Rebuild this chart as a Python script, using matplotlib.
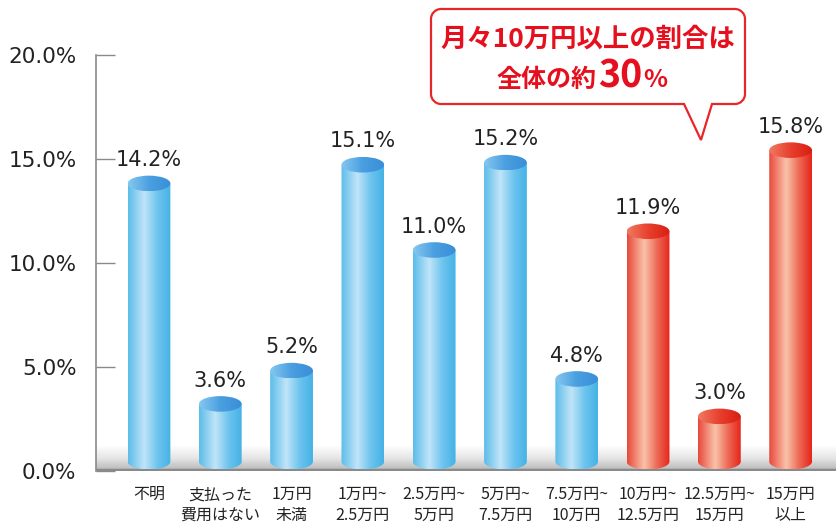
import numpy as np
import matplotlib
matplotlib.use('Agg')
import matplotlib.pyplot as plt
from matplotlib.colors import LinearSegmentedColormap
from matplotlib.path import Path
from matplotlib.patches import PathPatch, Ellipse
from matplotlib.ticker import FuncFormatter

plt.rcParams['font.family'] = ['Noto Sans CJK JP', 'DejaVu Sans']

# datos
categorias = ['不明', '支払った\n費用はない', '1万円\n未満', '1万円~\n2.5万円', '2.5万円~\n5万円',
              '5万円~\n7.5万円', '7.5万円~\n10万円', '10万円~\n12.5万円', '12.5万円~\n15万円', '15万円\n以上']
valores = [14.2, 3.6, 5.2, 15.1, 11.0, 15.2, 4.8, 11.9, 3.0, 15.8]
rojo = [False, False, False, False, False, False, False, True, True, True]
yticks = [0, 5, 10, 15, 20]

# gradientes del cilindro
cuerpo_azul = LinearSegmentedColormap.from_list('ca', [(0, '#5cbdea'), (0.38, '#c0e4f8'), (0.7, '#6cc3ee'), (1, '#45b2e6')])
tapa_azul = LinearSegmentedColormap.from_list('ta', ['#86c8f0', '#4a9fe0', '#3a8ed8'])
cuerpo_rojo = LinearSegmentedColormap.from_list('cr', [(0, '#e8483a'), (0.4, '#f9c2aa'), (0.7, '#ee6a55'), (1, '#e6241c')])
tapa_rojo = LinearSegmentedColormap.from_list('tr', ['#f07a62', '#e8402e', '#d81e12'])
piso = LinearSegmentedColormap.from_list('piso', ['#ffffff', '#e6e6e6', '#b4b4b4'])

fig = plt.figure(figsize=(8.37, 5.27), dpi=100)
ax = fig.add_axes([96 / 837, 56 / 527, 741 / 837, 416 / 527])
ax.set_xlim(-0.743, 9.65)
ax.set_ylim(0, 20)

ancho = 0.6
eh = 0.75  # alto de la elipse (en %)
grad = np.linspace(0, 1, 256).reshape(1, -1)

# piso gris
ax.imshow(grad.T, extent=[-0.743, 9.65, 0, 1.25], cmap=piso, aspect='auto', origin='upper', zorder=1)
ax.axhline(0.05, color='#8a8a8a', lw=2.5, zorder=2)

t = np.linspace(np.pi, 2 * np.pi, 40)
for i, (v, r) in enumerate(zip(valores, rojo)):
    x0, x1 = i - ancho / 2, i + ancho / 2
    ytop = v - eh / 2
    ybot = 0.45
    # cuerpo: lados + fondo redondeado
    arco = np.column_stack([i + ancho / 2 * np.cos(t), ybot + eh / 2 * np.sin(t)])
    verts = np.vstack([[x0, ytop], arco, [x1, ytop], [x0, ytop]])
    codes = [Path.MOVETO] + [Path.LINETO] * (len(verts) - 2) + [Path.CLOSEPOLY]
    body = PathPatch(Path(verts, codes), facecolor='none', edgecolor='none')
    ax.add_patch(body)
    im = ax.imshow(grad, extent=[x0, x1, ybot - eh / 2, ytop], aspect='auto',
                   cmap=cuerpo_rojo if r else cuerpo_azul, zorder=3)
    im.set_clip_path(body)
    # tapa
    tapa = Ellipse((i, ytop), ancho, eh, facecolor='none', edgecolor='none')
    ax.add_patch(tapa)
    im2 = ax.imshow(grad, extent=[x0, x1, ytop - eh / 2, ytop + eh / 2], aspect='auto',
                    cmap=tapa_rojo if r else tapa_azul, zorder=4)
    im2.set_clip_path(tapa)
    ax.annotate(f'{v:.1f}%', xy=(i, v), xytext=(0, 4), textcoords='offset points',
                ha='center', va='bottom', fontsize=15, family='DejaVu Sans',
                color='#222222', zorder=5)

ax.set_xticks(range(len(categorias)))
ax.set_xticklabels(categorias, fontsize=11.5, color='#222222', linespacing=1.25)
ax.tick_params(axis='x', length=0, pad=11)
ax.set_yticks(yticks)
ax.yaxis.set_major_formatter(FuncFormatter(lambda y, pos: f'{y:.1f}%'))
ax.tick_params(axis='y', direction='in', length=14, width=1, color='#8a8a8a',
               labelsize=15.5, labelcolor='#222222', pad=14)
for lbl in ax.get_yticklabels():
    lbl.set_family('DejaVu Sans')
for s in ['top', 'right', 'bottom']:
    ax.spines[s].set_visible(False)
ax.spines['left'].set_color('#8a8a8a')
ax.spines['left'].set_linewidth(1.2)

# globo de texto
ov = fig.add_axes([0, 0, 1, 1], zorder=10)
ov.set_xlim(0, 837)
ov.set_ylim(527, 0)
ov.axis('off')
L, R, T, B, rad = 431, 745, 9, 104, 10
k = 0.55 * rad
v = [(L + rad, T), (R - rad, T), (R - rad + k, T), (R, T + rad - k), (R, T + rad),
     (R, B - rad), (R, B - rad + k), (R - rad + k, B), (R - rad, B),
     (712, B), (701, 140), (684, B),
     (L + rad, B), (L + rad - k, B), (L, B - rad + k), (L, B - rad),
     (L, T + rad), (L, T + rad - k), (L + rad - k, T), (L + rad, T), (L + rad, T)]
c = [Path.MOVETO, Path.LINETO, Path.CURVE4, Path.CURVE4, Path.CURVE4,
     Path.LINETO, Path.CURVE4, Path.CURVE4, Path.CURVE4,
     Path.LINETO, Path.LINETO, Path.LINETO,
     Path.LINETO, Path.CURVE4, Path.CURVE4, Path.CURVE4,
     Path.LINETO, Path.CURVE4, Path.CURVE4, Path.CURVE4, Path.CLOSEPOLY]
ov.add_patch(PathPatch(Path(v, c), facecolor='white', edgecolor='#e8262a', lw=1.6))
rojo_txt = '#e60f1e'
ov.text(588, 47, '月々10万円以上の割合は', ha='center', va='baseline', fontsize=19,
        fontweight='bold', color=rojo_txt)

# segunda linea: piezas de distinto tamaño, una tras otra
piezas = [('全体の約', 18), ('30', 27), ('%', 18)]
fig.canvas.draw()
rend = fig.canvas.get_renderer()
xpos = 497
for txt, fs in piezas:
    tt = ov.text(xpos, 87, txt, ha='left', va='baseline', fontsize=fs,
                 fontweight='bold', color=rojo_txt)
    bb = tt.get_window_extent(renderer=rend)
    xpos += bb.width + 1
fig.savefig('out.png', dpi=100)
